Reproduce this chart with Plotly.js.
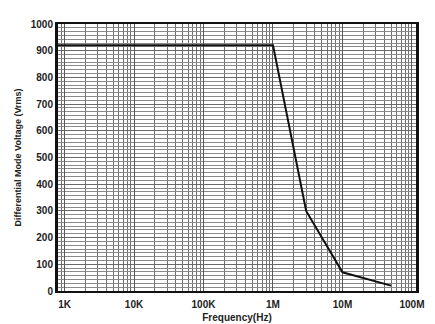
<!DOCTYPE html>
<html><head><meta charset="utf-8">
<script src="https://cdn.plot.ly/plotly-3.0.1.min.js"></script>
<style>html,body{margin:0;padding:0;background:#fff;}#chart{width:435px;height:324px;}</style>
</head><body><div id="chart"></div>
<script>
const frequencyHz = [800, 1e6, 3e6, 1e7, 5e7];
const voltageVrms = [920, 920, 300, 70, 20];
const xTickVals = [1e3, 1e4, 1e5, 1e6, 1e7, 1e8];
const xTickText = ["1K", "10K", "100K", "1M", "10M", "100M"];
const yTickVals = [0, 100, 200, 300, 400, 500, 600, 700, 800, 900, 1000];

const minorX = [];
for (let d = 2; d <= 7; d++) { for (let m = 2; m <= 9; m++) minorX.push(m * Math.pow(10, d)); }

const fnt = {family: "Liberation Sans, Arial, sans-serif", size: 10, color: "#222", weight: "bold"};
Plotly.newPlot("chart", [{
  x: frequencyHz, y: voltageVrms, mode: "lines", type: "scatter",
  line: {color: "#111", width: 2}, hoverinfo: "skip"
}], {
  width: 435, height: 324,
  margin: {l: 58, r: 19, t: 24, b: 33},
  paper_bgcolor: "#fff", plot_bgcolor: "#fff",
  showlegend: false,
  xaxis: {
    type: "log", range: [2.906, 8.058],
    tickvals: xTickVals, ticktext: xTickText,
    tickfont: fnt, ticks: "", ticklen: 0, ticklabelstandoff: 3,
    showgrid: true, gridcolor: "#5a5a5a", gridwidth: 1,
    minor: {tickvals: minorX, showgrid: true, gridcolor: "#6e6e6e", gridwidth: 1, ticks: ""},
    showline: true, linecolor: "#111", linewidth: 2, mirror: true,
    zeroline: false,
    title: {text: "Frequency(Hz)", font: fnt, standoff: 5}
  },
  yaxis: {
    range: [0, 1000],
    tickvals: yTickVals, tickfont: fnt, ticks: "",
    showgrid: true, gridcolor: "#6a6a6a", gridwidth: 1,
    minor: {dtick: 100/7, showgrid: true, gridcolor: "#8a8a8a", gridwidth: 1, ticks: ""},
    showline: true, linecolor: "#111", linewidth: 3, mirror: true,
    zeroline: false,
    title: {text: "Differential Mode Voltage (Vrms)", font: {family: "Liberation Sans, Arial, sans-serif", size: 9, color: "#222", weight: "bold"}, standoff: 8}
  }
}, {staticPlot: true, displayModeBar: false});
</script></body></html>
